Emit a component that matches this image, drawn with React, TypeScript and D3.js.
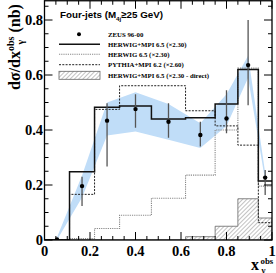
import React from 'react';
import * as d3 from 'd3';

// bin edges in x_gamma^obs
const edges = [0, 0.11, 0.22, 0.33, 0.47, 0.62, 0.75, 0.85, 0.94, 1];

// ZEUS 96-00 data
const zeusVal = [0.002, 0.196, 0.434, 0.476, 0.43, 0.382, 0.442, 0.636, 0.227];
const zeusUp = [0.003, 0.034, 0.063, 0.054, 0.067, 0.048, 0.103, 0.164, 0.028];
const zeusDown = [0.002, 0.072, 0.167, 0.068, 0.058, 0.042, 0.054, 0.146, 0.063];

// energy scale uncertainty band
const bandUpper = [0.01, 0.235, 0.5, 0.537, 0.495, 0.425, 0.53, 0.67, 0.245];
const bandLower = [0.0, 0.155, 0.38, 0.395, 0.365, 0.335, 0.415, 0.59, 0.215];

// MC predictions
const herwigMpi = [0.0, 0.248, 0.483, 0.487, 0.44, 0.445, 0.495, 0.62, 0.215];
const herwig = [0.0, 0.005, 0.042, 0.09, 0.152, 0.236, 0.4, 0.625, 0.196];
const pythiaMpi = [0.0, 0.166, 0.475, 0.561, 0.561, 0.47, 0.415, 0.345, 0.063];
const herwigDirect = [0, 0, 0, 0, 0, 0.012, 0.05, 0.15, 0.08];

const xTicks = [0, 0.2, 0.4, 0.6, 0.8, 1];
const yTicks = [0, 0.2, 0.4, 0.6, 0.8];

const legendItems = [
  { key: 'zeus', label: 'ZEUS 96-00' },
  { key: 'hmpi', label: 'HERWIG+MPI 6.5 (\u00d72.30)' },
  { key: 'h', label: 'HERWIG 6.5 (\u00d72.30)' },
  { key: 'p', label: 'PYTHIA+MPI 6.2 (\u00d72.60)' },
  { key: 'dir', label: 'HERWIG+MPI 6.5 (\u00d72.30 - direct)' },
];

const W = 276;
const H = 273;
const serif = '"Liberation Serif", "Times New Roman", serif';
const sans = '"Liberation Sans", Arial, sans-serif';

const App: React.FC = () => {
  const x = d3.scaleLinear().domain([0, 1]).range([44.5, 272]);
  const y = d3.scaleLinear().domain([0, 0.87]).range([240, 0.75]);
  const fmt = d3.format('~g');

  const centers = edges.slice(0, -1).map((e, i) => (e + edges[i + 1]) / 2);

  const stepLine = (vals: number[]) => {
    const pts: [number, number][] = vals.map((v, i) => [edges[i], v]);
    pts.push([edges[edges.length - 1], vals[vals.length - 1]]);
    return d3.line<[number, number]>()
      .x(d => x(d[0]))
      .y(d => y(d[1]))
      .curve(d3.curveStepAfter)(pts) || '';
  };

  const directPts: [number, number][] = herwigDirect.map((v, i) => [edges[i], v]);
  directPts.push([1, 0]);
  const directArea = d3.area<[number, number]>()
    .x(d => x(d[0]))
    .y0(y(0))
    .y1(d => y(d[1]))
    .curve(d3.curveStepAfter)(directPts) || '';

  const band = d3.area<number>()
    .x((_, i) => x(centers[i]))
    .y0((_, i) => y(bandLower[i]))
    .y1((_, i) => y(bandUpper[i]))(centers) || '';

  const minorY = d3.range(0, 0.87, 0.05);
  const minorX = d3.range(0, 1.0001, 0.05);
  const x0 = x(0), x1 = x(1), y0 = y(0), y1 = y(0.87);

  const legX0 = 59, legX1 = 100, legText = 108;
  const legY = [34.3, 44.3, 54.3, 64.7, 75.3];

  return (
    <svg width={W} height={H} style={{ position: 'absolute', left: 0, top: 0, background: '#fff' }}>
      <defs>
        <pattern id="hatch" patternUnits="userSpaceOnUse" width="3" height="3" patternTransform="rotate(45)">
          <rect width="3" height="3" fill="#fff" />
          <line x1="0" y1="0" x2="0" y2="3" stroke="#666" strokeWidth="0.8" />
        </pattern>
        <clipPath id="plot">
          <rect x={x0} y={y1} width={x1 - x0} height={y0 - y1} />
        </clipPath>
      </defs>

      <g clipPath="url(#plot)">
        <path d={band} fill="#c0ddf8" />
        <path d={directArea} fill="url(#hatch)" stroke="#777" strokeWidth={0.9} />
        <path d={stepLine(herwig)} fill="none" stroke="#888" strokeWidth={1.1} strokeDasharray="1.2,1" />
        <path d={stepLine(pythiaMpi)} fill="none" stroke="#222" strokeWidth={1} strokeDasharray="2,1.3" />
        <path d={stepLine(herwigMpi)} fill="none" stroke="#111" strokeWidth={1.5} />
        {centers.map((c, i) => (
          <g key={i}>
            <line x1={x(c)} x2={x(c)} y1={y(zeusVal[i] + zeusUp[i])} y2={y(zeusVal[i] - zeusDown[i])}
              stroke="#555" strokeWidth={1.3} />
            <circle cx={x(c)} cy={y(zeusVal[i])} r={2.2} fill="#000" />
          </g>
        ))}
      </g>

      {/* frame and ticks */}
      <rect x={x0} y={y1} width={x1 - x0} height={y0 - y1} fill="none" stroke="#000" strokeWidth={1.3} />
      {minorY.map((v, i) => {
        const major = yTicks.some(t => Math.abs(t - v) < 1e-6);
        const len = major ? 8 : 4;
        return (
          <g key={'y' + i} stroke="#000" strokeWidth={1}>
            <line x1={x0} x2={x0 + len} y1={y(v)} y2={y(v)} />
            <line x1={x1} x2={x1 - len} y1={y(v)} y2={y(v)} />
          </g>
        );
      })}
      {minorX.map((v, i) => {
        const major = xTicks.some(t => Math.abs(t - v) < 1e-6);
        const len = major ? 8 : 4;
        return (
          <g key={'x' + i} stroke="#000" strokeWidth={1}>
            <line x1={x(v)} x2={x(v)} y1={y0} y2={y0 - len} />
            <line x1={x(v)} x2={x(v)} y1={y1} y2={y1 + len} />
          </g>
        );
      })}

      {/* tick labels */}
      {yTicks.map(t => (
        <text key={'yl' + t} x={43} y={y(t)} dy="0.34em" textAnchor="end"
          fontFamily={serif} fontWeight="bold" fontSize={14.5}>{fmt(t)}</text>
      ))}
      {xTicks.map(t => (
        <text key={'xl' + t} x={x(t)} y={256} textAnchor="middle"
          fontFamily={serif} fontWeight="bold" fontSize={14.5}>{fmt(t)}</text>
      ))}

      {/* axis titles */}
      <g transform="translate(20,47) rotate(-90)">
        <text textAnchor="middle" fontFamily={serif} fontWeight="bold" fontSize={16}>
          <tspan>dσ/dx</tspan>
          <tspan fontSize={10} dy={-6}>obs</tspan>
          <tspan fontSize={16} dy={6}> (nb)</tspan>
        </text>
        <text x={2.5} y={3.5} fontFamily={serif} fontWeight="bold" fontSize={10}>γ</text>
      </g>
      <text x={251} y={269.5} fontFamily={serif} fontWeight="bold" fontSize={16}>x</text>
      <text x={260.5} y={263.5} fontFamily={serif} fontWeight="bold" fontSize={8.8}>obs</text>
      <text x={261.5} y={272.5} fontFamily={serif} fontWeight="bold" fontSize={8.5}>γ</text>

      {/* header */}
      <text x={60} y={18.3} fontFamily={sans} fontWeight="bold" fontSize={9.8}>
        <tspan>Four-jets (M</tspan>
        <tspan fontSize={6.2} dy={2.5}>4j</tspan>
        <tspan dy={-2.5}>≥25 GeV)</tspan>
      </text>

      {/* legend */}
      {legendItems.map((it, i) => {
        const ly = legY[i];
        let sym: React.ReactNode = null;
        if (it.key === 'zeus') sym = <circle cx={79} cy={ly} r={2} fill="#000" />;
        if (it.key === 'hmpi') sym = <line x1={legX0} x2={legX1} y1={ly} y2={ly} stroke="#111" strokeWidth={1.4} />;
        if (it.key === 'h') sym = <line x1={legX0} x2={legX1} y1={ly} y2={ly} stroke="#888" strokeWidth={1.1} strokeDasharray="1.2,1" />;
        if (it.key === 'p') sym = <line x1={legX0} x2={legX1} y1={ly} y2={ly} stroke="#222" strokeWidth={1} strokeDasharray="2,1.3" />;
        if (it.key === 'dir') sym = <rect x={legX0} y={ly - 4} width={legX1 - legX0} height={8} fill="url(#hatch)" stroke="#666" strokeWidth={0.8} />;
        return (
          <g key={it.key}>
            {sym}
            <text x={legText} y={ly + 2.5} fontFamily={serif} fontWeight="bold" fontSize={6.8}>{it.label}</text>
          </g>
        );
      })}
    </svg>
  );
};

export default App;
